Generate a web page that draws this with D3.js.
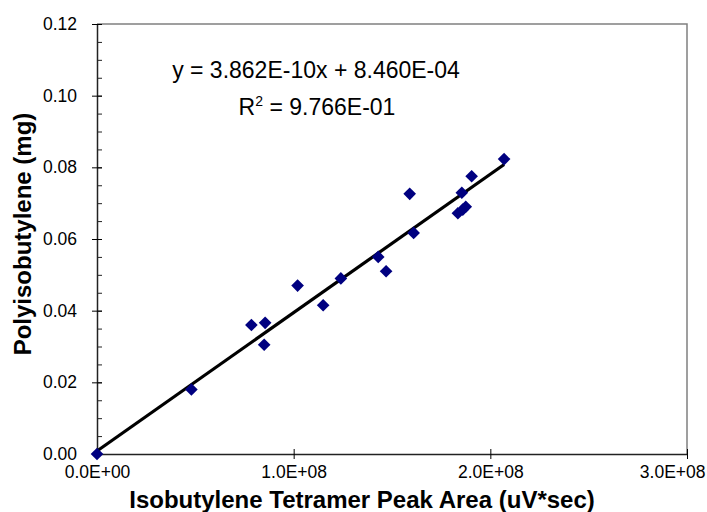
<!DOCTYPE html>
<html>
<head>
<meta charset="utf-8">
<script src="https://cdn.jsdelivr.net/npm/d3@7"></script>
<style>
  body { margin: 0; background: #fff; }
  text { font-family: Arial, 'Liberation Sans', sans-serif; fill: #000; }
</style>
</head>
<body>
<div id="app"></div>
<script>
'use strict'

// Data
const peakArea = [0, 4.8e7, 7.85e7, 8.5e7, 8.55e7, 1.02e8, 1.15e8, 1.24e8, 1.43e8, 1.47e8,
  1.59e8, 1.61e8, 1.835e8, 1.855e8, 1.86e8, 1.875e8, 1.905e8, 2.07e8]
const pibMass = [0, 0.018, 0.036, 0.0305, 0.0366, 0.047, 0.0415, 0.049, 0.055, 0.051,
  0.0726, 0.0617, 0.0672, 0.0729, 0.0682, 0.069, 0.0775, 0.0823]

const xTicks = [0, 1e8, 2e8, 3e8]
const xTickLabels = ['0.0E+00', '1.0E+08', '2.0E+08', '3.0E+08']
const yTicks = [0, 0.02, 0.04, 0.06, 0.08, 0.10, 0.12]
const yMinorTicks = d3.range(0, 0.1201, 0.005)

// Trendline coefficients as printed on the chart
const slope = 3.862e-10
const intercept = 8.460e-4
const eqLine = 'y = 3.862E-10x + 8.460E-04'
const r2Value = '9.766E-01'

const setWidth = 707
const setHeight = 512

const setPaddings = {
  top: 24,
  bottom: 58,
  left: 97,
  right: 20
}

const chart = () => {
  const innerW = setWidth - setPaddings.left - setPaddings.right
  const innerH = setHeight - setPaddings.top - setPaddings.bottom

  const svg = d3.select('#app')
    .append('svg')
    .attr('width', setWidth)
    .attr('height', setHeight)

  const scaleX = d3.scaleLinear()
    .domain([0, 3e8])
    .range([setPaddings.left, setPaddings.left + innerW])

  const scaleY = d3.scaleLinear()
    .domain([0, 0.12])
    .range([setPaddings.top + innerH, setPaddings.top])

  // top and right frame
  svg.append('path')
    .attr('d', `M${scaleX(0)},${scaleY(0.12)}H${scaleX(3e8)}V${scaleY(0)}`)
    .attr('fill', 'none')
    .attr('stroke', '#808080')
    .attr('stroke-width', 1.5)

  // minor ticks on y, inside
  svg.append('g')
    .attr('transform', `translate(${scaleX(0)},0)`)
    .call(d3.axisRight(scaleY).tickValues(yMinorTicks).tickSize(5).tickFormat(''))
    .call(g => g.select('.domain').remove())
    .call(g => g.selectAll('line').attr('stroke', '#222'))

  // y axis
  const yAxis = svg.append('g')
    .attr('transform', `translate(${scaleX(0)},0)`)
    .call(d3.axisLeft(scaleY).tickValues(yTicks).tickSize(5).tickSizeOuter(0).tickPadding(15)
      .tickFormat(d3.format('.2f')))
  yAxis.selectAll('.tick line').attr('x2', 5).attr('x1', -5)
  yAxis.select('.domain').attr('stroke', '#222').attr('stroke-width', 1.5)
  yAxis.selectAll('text').style('font-size', '17.5px')

  // x axis
  const xAxis = svg.append('g')
    .attr('transform', `translate(0,${scaleY(0)})`)
    .call(d3.axisBottom(scaleX).tickValues(xTicks).tickSize(5).tickSizeOuter(0).tickPadding(7)
      .tickFormat((d, i) => xTickLabels[i]))
  xAxis.selectAll('.tick line').attr('y1', -5).attr('y2', 5)
  xAxis.select('.domain').attr('stroke', '#222').attr('stroke-width', 1.5)
  xAxis.selectAll('text').style('font-size', '17.5px')
  // last label is pulled inside the chart edge
  xAxis.selectAll('.tick text')
    .filter((d, i) => i === xTicks.length - 1)
    .attr('text-anchor', 'end')
    .attr('x', 18)

  // trendline
  const xMax = d3.max(peakArea)
  svg.append('line')
    .attr('x1', scaleX(0))
    .attr('y1', scaleY(intercept))
    .attr('x2', scaleX(xMax))
    .attr('y2', scaleY(slope * xMax + intercept))
    .attr('stroke', '#000')
    .attr('stroke-width', 3.2)

  // points
  svg.append('g')
    .selectAll('path')
    .data(peakArea.map((d, i) => [d, pibMass[i]]))
    .enter()
    .append('path')
    .attr('d', d3.symbol(d3.symbolSquare, 80))
    .attr('transform', d => `translate(${scaleX(d[0])},${scaleY(d[1])}) rotate(45)`)
    .attr('fill', '#000080')

  // equation
  svg.append('text')
    .attr('x', 316)
    .attr('y', 78)
    .attr('text-anchor', 'middle')
    .style('font-size', '23px')
    .text(eqLine)

  const r2 = svg.append('text')
    .attr('x', 317)
    .attr('y', 115)
    .attr('text-anchor', 'middle')
    .style('font-size', '23px')
  r2.append('tspan').text('R')
  r2.append('tspan').attr('dy', -9).style('font-size', '14px').text('2')
  r2.append('tspan').attr('dy', 9).text(` = ${r2Value}`)

  // axis titles
  svg.append('text')
    .attr('x', 362)
    .attr('y', 508)
    .attr('text-anchor', 'middle')
    .style('font-size', '24px')
    .style('font-weight', 'bold')
    .text('Isobutylene Tetramer Peak Area (uV*sec)')

  svg.append('text')
    .attr('transform', `translate(31,${scaleY(0.06) - 5}) rotate(-90)`)
    .attr('text-anchor', 'middle')
    .style('font-size', '24px')
    .style('font-weight', 'bold')
    .text('Polyisobutylene (mg)')
}

chart()
</script>
</body>
</html>
